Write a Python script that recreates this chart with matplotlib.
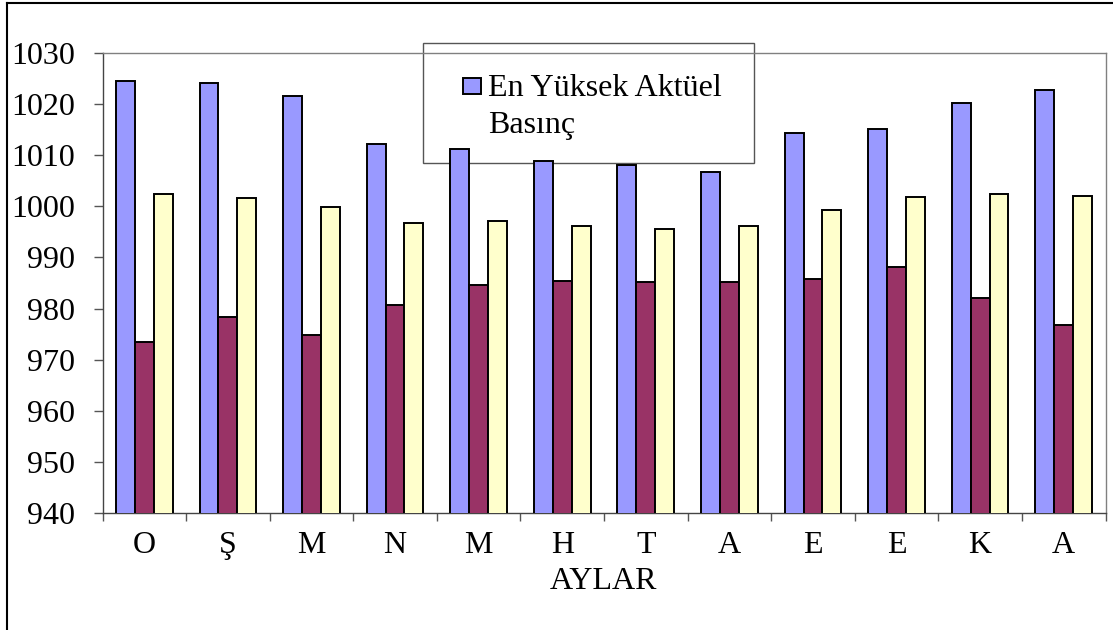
import matplotlib
matplotlib.use("Agg")
import matplotlib.pyplot as plt
from matplotlib.patches import Rectangle
from matplotlib.lines import Line2D
import numpy as np

months = ["O", "Ş", "M", "N", "M", "H", "T", "A", "E", "E", "K", "A"]
en_yuksek = [1024.6, 1024.2, 1021.6, 1012.2, 1011.2, 1008.9, 1008.2, 1006.7, 1014.4, 1015.2, 1020.2, 1022.9]
en_dusuk = [973.5, 978.3, 974.9, 980.7, 984.6, 985.4, 985.1, 985.2, 985.8, 988.2, 982.0, 976.7]
ortalama = [1002.5, 1001.7, 999.8, 996.8, 997.2, 996.1, 995.6, 996.2, 999.3, 1001.8, 1002.4, 1002.0]
y_ticks = [940, 950, 960, 970, 980, 990, 1000, 1010, 1020, 1030]
series_names = ["En Yüksek Aktüel Basınç", "En Düşük Aktüel Basınç", "Ortalama Aktüel Basınç"]
colors = ["#9999FF", "#993366", "#FFFFCC"]

plt.rcParams['font.family'] = ['Liberation Serif', 'DejaVu Serif']
FS = 23

W, H = 1113, 630
fig = plt.figure(figsize=(W / 100, H / 100), dpi=100)
fig.patch.set_facecolor("white")

ax_l, ax_r, ax_t, ax_b = 102.5, 1105.5, 53.3, 512.7
ax = fig.add_axes([ax_l / W, 1 - ax_b / H, (ax_r - ax_l) / W, (ax_b - ax_t) / H])

x = np.arange(len(months))
bw = 0.226
for i, (vals, col, name) in enumerate(zip([en_yuksek, en_dusuk, ortalama], colors, series_names)):
    ax.bar(x + (i - 1) * bw, vals, width=bw, color=col, edgecolor="black",
           linewidth=1.4, zorder=3, label=name)

ax.set_ylim(940, 1030)
ax.set_xlim(-0.5, len(months) - 0.5)
ax.set_yticks(y_ticks)
ax.set_yticklabels([str(v) for v in y_ticks], fontsize=FS)
ax.set_xticks(x)
ax.set_xticklabels(months, fontsize=FS)
ax.set_xticks(np.arange(-0.5, len(months), 1.0), minor=True)
ax.tick_params(axis="x", which="major", length=0, pad=13)
ax.tick_params(axis="x", which="minor", length=6, width=1, color="#555555", direction="out")
ax.tick_params(axis="y", which="major", length=6.5, width=1, color="#555555", direction="out", pad=13)
ax.set_xlabel("AYLAR", fontsize=FS, labelpad=5)

for s in ["top", "right"]:
    ax.spines[s].set_color("#808080")
    ax.spines[s].set_linewidth(1)
for s in ["left", "bottom"]:
    ax.spines[s].set_color("#444444")
    ax.spines[s].set_linewidth(1)

# legend box (drawn behind bars, like the reference)
def fx(px):
    return px / W

def fy(py):
    return 1 - py / H

leg = Rectangle((fx(422.7), fy(163.3)), fx(754.3) - fx(422.7), fy(43.3) - fy(163.3),
                transform=fig.transFigure, facecolor="white", edgecolor="#555555",
                linewidth=1, zorder=1, clip_on=False)
ax.add_patch(leg)
handle = Rectangle((fx(463.3), fy(94.3)), fx(481) - fx(463.3), fy(77.7) - fy(94.3),
                   transform=fig.transFigure, facecolor=colors[0], edgecolor="black",
                   linewidth=1.4, zorder=1.5, clip_on=False)
ax.add_patch(handle)
ax.text(fx(488.3), fy(95.7), "En Yüksek Aktüel", transform=fig.transFigure,
        fontsize=FS, ha="left", va="baseline", zorder=1.5)
ax.text(fx(488.3), fy(132.7), "Basınç", transform=fig.transFigure,
        fontsize=FS, ha="left", va="baseline", zorder=1.5)

# outer chart border (left and top visible)
fig.add_artist(Line2D([fx(6.7), fx(6.7)], [0, fy(2.5)], transform=fig.transFigure,
                      color="black", linewidth=1.5))
fig.add_artist(Line2D([fx(6.7), 1], [fy(2.5), fy(2.5)], transform=fig.transFigure,
                      color="black", linewidth=1.5))

fig.savefig("out.png", dpi=100)
